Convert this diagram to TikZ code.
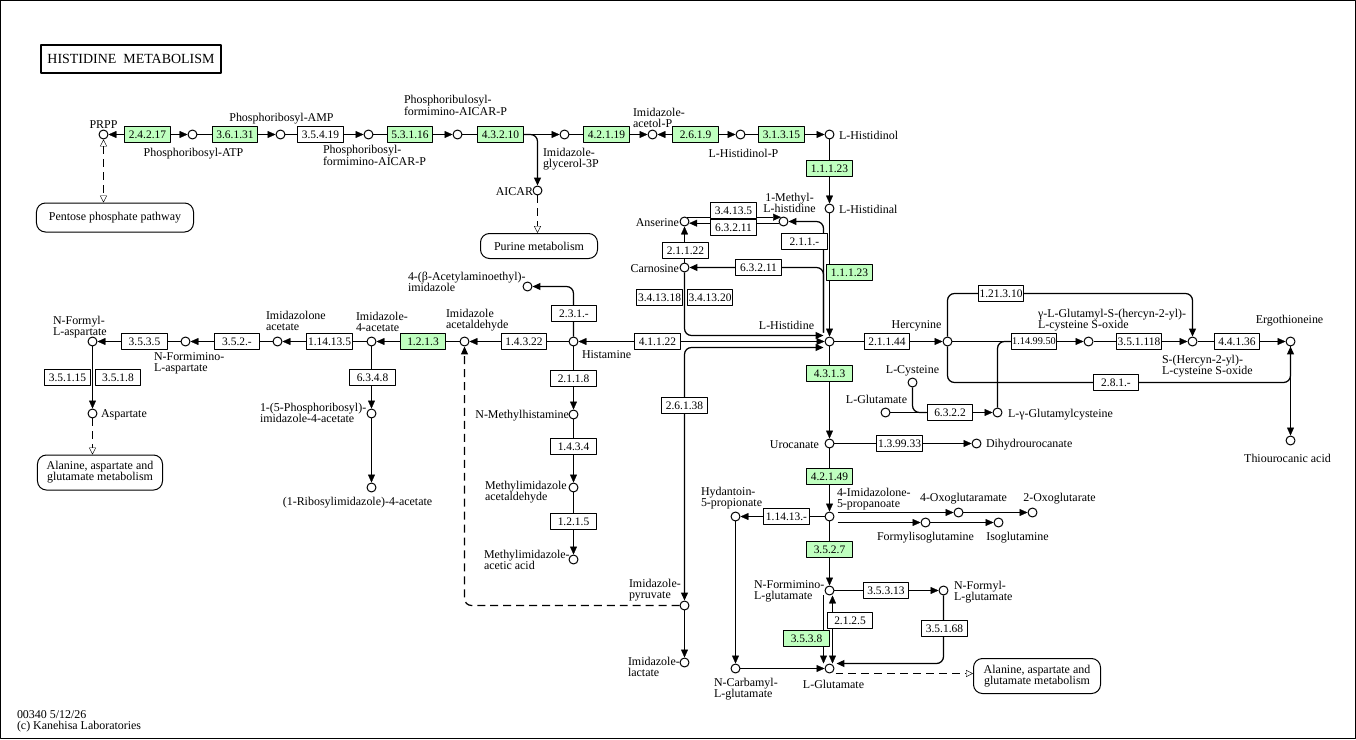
\documentclass[tikz,border=0pt]{standalone}
\usepackage{fontspec}
\setmainfont{Liberation Serif}
\usetikzlibrary{arrows.meta,backgrounds,calc}
\definecolor{keggreen}{HTML}{BFFFBF}
\tikzset{
  cpd/.style={circle,draw,fill=white,inner sep=0pt,minimum size=9pt},
  ec/.style={draw,fill=white,inner sep=1pt,minimum width=46pt,minimum height=16pt,
    font=\fontsize{11.5}{12}\selectfont},
  ecg/.style={ec,fill=keggreen},
  txt/.style={inner sep=0pt,align=left,font=\fontsize{12}{11}\selectfont},
  mapbox/.style={draw,fill=white,rounded corners=9pt,align=center,inner sep=2pt,
    font=\fontsize{12}{11}\selectfont},
  maplink/.style={dash pattern=on 8pt off 5pt,-{Triangle[open,length=7pt,width=7pt]}},
  maplinkboth/.style={dash pattern=on 8pt off 5pt,
    {Triangle[open,length=7pt,width=7pt]}-{Triangle[open,length=7pt,width=7pt]}},
  elbow/.style={rounded corners=7pt,line width=1.25bp}
}
\begin{document}
\begin{tikzpicture}[x=1bp,y=-1bp,line width=1bp,line join=round,>={Triangle[length=8pt,width=7pt]}]
\useasboundingbox (-0.5,-0.5) rectangle (1355.5,738.5);
% title and frame
\draw (0,0) rectangle (1355,738);
\node[draw,line width=2bp,minimum width=179bp,minimum height=27bp,inner sep=0pt,
  font=\fontsize{14}{14}\selectfont] (t-title) at (130.5,58.5) {HISTIDINE\ \ METABOLISM};

% compounds
\node[cpd] (c-prpp) at (103,134) {};
\node[cpd] (c-prat) at (192,134) {};
\node[cpd] (c-pramp) at (280,134) {};
\node[cpd] (c-profar) at (368,134) {};
\node[cpd] (c-prfar) at (457,134) {};
\node[cpd] (c-igp) at (564,134) {};
\node[cpd] (c-aicar) at (537,190) {};
\node[cpd] (c-iap) at (652,134) {};
\node[cpd] (c-hisp) at (740,134) {};
\node[cpd] (c-hisol) at (829,134) {};
\node[cpd] (c-hisal) at (829,208) {};
\node[cpd] (c-his) at (829,341) {};
\node[cpd] (c-mehis) at (783,221) {};
\node[cpd] (c-ans) at (684,221) {};
\node[cpd] (c-car) at (684,267) {};
\node[cpd] (c-hista) at (573,341) {};
\node[cpd] (c-acetyl) at (527,286) {};
\node[cpd] (c-imacald) at (464,341) {};
\node[cpd] (c-im4ac) at (371,341) {};
\node[cpd] (c-imolac) at (277,341) {};
\node[cpd] (c-nfiasp) at (185,341) {};
\node[cpd] (c-nfasp) at (92,341) {};
\node[cpd] (c-asp) at (92,413) {};
\node[cpd] (c-prim) at (371,413) {};
\node[cpd] (c-ribim) at (371,487) {};
\node[cpd] (c-mehista) at (573,414) {};
\node[cpd] (c-meacald) at (573,487) {};
\node[cpd] (c-meacac) at (573,559) {};
\node[cpd] (c-impyr) at (684,605) {};
\node[cpd] (c-imlac) at (684,662) {};
\node[cpd] (c-hercyn) at (947,341) {};
\node[cpd] (c-gghc) at (1088,341) {};
\node[cpd] (c-shc) at (1192,341) {};
\node[cpd] (c-ergo) at (1290,341) {};
\node[cpd] (c-thio) at (1290,440) {};
\node[cpd] (c-cys) at (912,382) {};
\node[cpd] (c-glu1) at (885,412) {};
\node[cpd] (c-gglucys) at (997,412) {};
\node[cpd] (c-uro) at (829,443) {};
\node[cpd] (c-dihuro) at (976,443) {};
\node[cpd] (c-imp) at (829,516) {};
\node[cpd] (c-hyd) at (735,516) {};
\node[cpd] (c-oxam) at (958,512) {};
\node[cpd] (c-oxog) at (1032,512) {};
\node[cpd] (c-fig) at (925,522) {};
\node[cpd] (c-ig) at (998,522) {};
\node[cpd] (c-figlu) at (829,590) {};
\node[cpd] (c-fglu) at (943,590) {};
\node[cpd] (c-ncglu) at (735,668) {};
\node[cpd] (c-glu) at (829,668) {};

% enzymes
\node[ecg] (e-24217) at (147,134) {2.4.2.17};
\node[ecg] (e-36131) at (234.5,134) {3.6.1.31};
\node[ec] (e-35419) at (320,134) {3.5.4.19};
\node[ecg] (e-53116) at (409.5,134) {5.3.1.16};
\node[ecg] (e-43210) at (500,134) {4.3.2.10};
\node[ecg] (e-42119) at (606,134) {4.2.1.19};
\node[ecg] (e-2619) at (695,134) {2.6.1.9};
\node[ecg] (e-31315) at (781,134) {3.1.3.15};
\node[ecg] (e-11123a) at (829,168) {1.1.1.23};
\node[ecg] (e-11123b) at (849,272) {1.1.1.23};
\node[ec] (e-34135) at (733,210) {3.4.13.5};
\node[ec] (e-63211a) at (733,227) {6.3.2.11};
\node[ec] (e-211x) at (804,241) {2.1.1.-};
\node[ec] (e-21122) at (685,250) {2.1.1.22};
\node[ec] (e-63211b) at (758,267) {6.3.2.11};
\node[ec] (e-341318) at (659,297) {3.4.13.18};
\node[ec] (e-341320) at (709.5,297) {3.4.13.20};
\node[ec] (e-41122) at (657,341) {4.1.1.22};
\node[ec] (e-231x) at (573.5,313) {2.3.1.-};
\node[ec] (e-14322) at (523.5,341) {1.4.3.22};
\node[ecg] (e-1213) at (422.5,341) {1.2.1.3};
\node[ec] (e-114135) at (329,341) {1.14.13.5};
\node[ec] (e-352x) at (236.5,341) {3.5.2.-};
\node[ec] (e-3535) at (144,341) {3.5.3.5};
\node[ec] (e-35115) at (67,377) {3.5.1.15};
\node[ec] (e-3518) at (117.5,377) {3.5.1.8};
\node[ec] (e-6348) at (372,377) {6.3.4.8};
\node[ec] (e-2118) at (573,378) {2.1.1.8};
\node[ec] (e-1434) at (573,446) {1.4.3.4};
\node[ec] (e-1215) at (573,521) {1.2.1.5};
\node[ec] (e-26138) at (684,405) {2.6.1.38};
\node[ec] (e-21144) at (886.5,341) {2.1.1.44};
\node[ec] (e-121310) at (1000.5,293) {1.21.3.10};
\node[ec,font=\fontsize{10.3}{12}\selectfont] (e-1149950) at (1033.5,341) {1.14.99.50};
\node[ec] (e-351118) at (1138.5,341) {3.5.1.118};
\node[ec] (e-44136) at (1236.5,341) {4.4.1.36};
\node[ec] (e-281x) at (1115.5,382) {2.8.1.-};
\node[ec] (e-6322) at (949.5,412) {6.3.2.2};
\node[ecg] (e-4313) at (829,373) {4.3.1.3};
\node[ec] (e-139933) at (899,443) {1.3.99.33};
\node[ecg] (e-42149) at (829,476) {4.2.1.49};
\node[ec] (e-11413x) at (786,516) {1.14.13.-};
\node[ecg] (e-3527) at (829,549) {3.5.2.7};
\node[ec] (e-35313) at (885.5,590) {3.5.3.13};
\node[ec] (e-35168) at (944,628) {3.5.1.68};
\node[ec] (e-2125) at (849.5,620) {2.1.2.5};
\node[ecg] (e-3538) at (806,638) {3.5.3.8};

% pathway maps
\node[mapbox,minimum width=157bp,minimum height=29bp] (m-ppp) at (114.5,217) {Pentose phosphate pathway};
\node[mapbox,minimum width=117bp,minimum height=25bp] (m-pur) at (538.5,245.5) {Purine metabolism};
\node[mapbox,minimum width=125bp,minimum height=35bp] (m-ala1) at (99.5,472) {Alanine, aspartate and\\glutamate metabolism};
\node[mapbox,minimum width=127bp,minimum height=35bp] (m-ala2) at (1036.5,675.5) {Alanine, aspartate and\\glutamate metabolism};

% compound names
\node[txt,anchor=south] (t-prpp) at (103,128) {PRPP};
\node[txt] (t-prat) at (193,153) {Phosphoribosyl-ATP};
\node[txt] (t-pramp) at (281,118) {Phosphoribosyl-AMP};
\node[txt,anchor=north west] (t-profar) at (322,144) {Phosphoribosyl-\\formimino-AICAR-P};
\node[txt,anchor=north west] (t-prfar) at (403,94) {Phosphoribulosyl-\\formimino-AICAR-P};
\node[txt,anchor=north west] (t-igp) at (542,147) {Imidazole-\\glycerol-3P};
\node[txt,anchor=east] (t-aicar) at (533,191) {AICAR};
\node[txt,anchor=north west] (t-iap) at (632,107) {Imidazole-\\acetol-P};
\node[txt] (t-hisp) at (743,153) {L-Histidinol-P};
\node[txt,anchor=west] (t-hisol) at (838,135) {L-Histidinol};
\node[txt,anchor=west] (t-hisal) at (838,209) {L-Histidinal};
\node[txt,align=center,anchor=north] (t-mehis) at (789,192) {1-Methyl-\\L-histidine};
\node[txt,anchor=east] (t-ans) at (679,222) {Anserine};
\node[txt,anchor=east] (t-car) at (679,268) {Carnosine};
\node[txt] (t-his) at (786,325) {L-Histidine};
\node[txt,anchor=north west] (t-acetyl) at (407,271) {4-(β-Acetylaminoethyl)-\\imidazole};
\node[txt,anchor=north west] (t-imacald) at (445,308) {Imidazole\\acetaldehyde};
\node[txt,anchor=west] (t-hista) at (581,354) {Histamine};
\node[txt,anchor=east] (t-mehista) at (569,415) {N-Methylhistamine};
\node[txt,anchor=north west] (t-meacald) at (484,480) {Methylimidazole\\acetaldehyde};
\node[txt,anchor=north west] (t-meacac) at (483,549) {Methylimidazole-\\acetic acid};
\node[txt,anchor=north west] (t-impyr) at (628,578) {Imidazole-\\pyruvate};
\node[txt,anchor=north west] (t-imlac) at (627,656) {Imidazole-\\lactate};
\node[txt,anchor=north west] (t-im4ac) at (355,311) {Imidazole-\\4-acetate};
\node[txt,anchor=north west] (t-imolac) at (265,310) {Imidazolone\\acetate};
\node[txt,anchor=north west] (t-nfiasp) at (153,352) {N-Formimino-\\L-aspartate};
\node[txt,anchor=north west] (t-nfasp) at (52,315) {N-Formyl-\\L-aspartate};
\node[txt,anchor=west] (t-asp) at (100,414) {Aspartate};
\node[txt,anchor=north west] (t-prim) at (259,402) {1-(5-Phosphoribosyl)-\\imidazole-4-acetate};
\node[txt] (t-ribim) at (357,502) {(1-Ribosylimidazole)-4-acetate};
\node[txt] (t-hercyn) at (916,325) {Hercynine};
\node[txt,anchor=north west] (t-gghc) at (1037,308) {γ-L-Glutamyl-S-(hercyn-2-yl)-\\L-cysteine S-oxide};
\node[txt,anchor=north west] (t-shc) at (1161,354) {S-(Hercyn-2-yl)-\\L-cysteine S-oxide};
\node[txt] (t-ergo) at (1289,320) {Ergothioneine};
\node[txt] (t-thio) at (1287,458) {Thiourocanic acid};
\node[txt] (t-cys) at (912,370) {L-Cysteine};
\node[txt] (t-glu1) at (876,399) {L-Glutamate};
\node[txt,anchor=west] (t-gglucys) at (1007,414) {L-γ-Glutamylcysteine};
\node[txt,anchor=east] (t-uro) at (819,444) {Urocanate};
\node[txt,anchor=west] (t-dihuro) at (985,444) {Dihydrourocanate};
\node[txt,anchor=north west] (t-imp) at (836,487) {4-Imidazolone-\\5-propanoate};
\node[txt,anchor=north west] (t-hyd) at (700,486) {Hydantoin-\\5-propionate};
\node[txt] (t-oxam) at (963,498) {4-Oxoglutaramate};
\node[txt] (t-oxog) at (1059,498) {2-Oxoglutarate};
\node[txt] (t-fig) at (925,537) {Formylisoglutamine};
\node[txt] (t-ig) at (1017,537) {Isoglutamine};
\node[txt,anchor=north west] (t-figlu) at (753,580) {N-Formimino-\\L-glutamate};
\node[txt,anchor=north west] (t-fglu) at (953,580) {N-Formyl-\\L-glutamate};
\node[txt,anchor=north west] (t-ncglu) at (713,677) {N-Carbamyl-\\L-glutamate};
\node[txt] (t-glu) at (833,684) {L-Glutamate};
\node[txt,anchor=north west] (t-footer) at (16,710) {00340 5/12/26\\(c) Kanehisa Laboratories};

% free ends near compounds
\coordinate (his-up) at ($(c-his)+(-6,-9)$);
\coordinate (his-in1) at ($(c-his)+(-6,-6)$);
\coordinate (his-in3) at ($(c-his)+(-6,6)$);
\coordinate (imp-o1) at ($(c-imp)+(8,-4)$);
\coordinate (imp-o2) at ($(c-imp)+(8,6)$);
\coordinate (glu-in) at ($(c-glu)+(7,-5)$);
\coordinate (glu-out) at ($(c-glu)+(6,5)$);

\begin{scope}[on background layer]
% histidine biosynthesis
\draw[<->] (c-prpp) -- (c-prat);
\draw[->] (c-prat) -- (c-pramp);
\draw[->] (c-pramp) -- (c-profar);
\draw[->] (c-profar) -- (c-prfar);
\draw[->] (c-prfar) -- (c-igp);
\draw[->,elbow] (e-43210.east) -| (c-aicar);
\draw[->] (c-igp) -- (c-iap);
\draw[<->] (c-iap) -- (c-hisp);
\draw[->] (c-hisp) -- (c-hisol);
\draw[->] (c-hisol) -- (c-hisal);
\draw[->] (c-hisal) -- (c-his);
% carnosine and anserine
\draw[->] (c-ans.60) -- (c-mehis.120);
\draw[->] (c-mehis.200) -- (c-ans.340);
\draw[->] (c-car) -- (c-ans);
\draw[->,elbow] (his-up) |- (c-mehis);
\draw[->,elbow] (his-up) |- (c-car);
\draw[->,elbow] (c-car) |- (his-in1);
% histamine branch
\draw[<->] (c-hista) -- (c-his);
\draw[->] (c-hista) -- (c-imacald);
\draw[->,elbow] (c-hista) |- (c-acetyl);
\draw[->] (c-hista) -- (c-mehista);
\draw[->] (c-mehista) -- (c-meacald);
\draw[->] (c-meacald) -- (c-meacac);
\draw[<->,elbow] (c-impyr) |- (his-in3);
\draw[->] (c-impyr) -- (c-imlac);
\draw[->,elbow,dash pattern=on 8pt off 5pt] (c-impyr) -| (c-imacald);
\draw[->] (c-imacald) -- (c-im4ac);
\draw[->] (c-im4ac) -- (c-imolac);
\draw[->] (c-imolac) -- (c-nfiasp);
\draw[->] (c-nfiasp) -- (c-nfasp);
\draw[->] (c-nfasp) -- (c-asp);
\draw[->] (c-im4ac) -- (c-prim);
\draw[->] (c-prim) -- (c-ribim);
% ergothioneine
\draw[->] (c-his) -- (c-hercyn);
\draw[->] (c-hercyn) -- (c-gghc);
\draw[->] (c-gghc) -- (c-shc);
\draw[->] (c-shc) -- (c-ergo);
\draw[->] (c-ergo) -- (c-thio);
\draw[->,elbow] (c-hercyn) |- (e-121310.center) -| (c-shc);
\draw[->,elbow] (c-hercyn) |- (e-281x.center) -| (c-ergo);
\draw[->] (c-glu1) -- (c-gglucys);
\draw[elbow] (c-cys) |- (e-6322.west);
\draw[elbow] (c-gglucys) |- (e-1149950.west);
% urocanate to glutamate
\draw[->] (c-his) -- (c-uro);
\draw[->] (c-uro) -- (c-dihuro);
\draw[->] (c-uro) -- (c-imp);
\draw[->] (c-imp) -- (c-hyd);
\draw[->] (imp-o1) -- (c-oxam);
\draw[->] (c-oxam) -- (c-oxog);
\draw[->] (imp-o2) -- (c-fig);
\draw[->] (c-fig) -- (c-ig);
\draw[->] (c-imp) -- (c-figlu);
\draw[->] (c-figlu) -- (c-fglu);
\draw[->,elbow] (c-fglu) |- (glu-in);
\draw[->] ([xshift=-6bp]c-figlu.south) -- ([xshift=-6bp]c-glu.north);
\draw[<->] ([xshift=3bp]c-figlu.south) -- ([xshift=3bp]c-glu.north);
\draw[->] (c-hyd) -- (c-ncglu);
\draw[->] (c-ncglu) -- (c-glu);
% links to other maps
\draw[maplinkboth] (c-prpp) -- (c-prpp |- m-ppp.north);
\draw[maplink] (c-aicar) -- (c-aicar |- m-pur.north);
\draw[maplink] (c-asp) -- (c-asp |- m-ala1.north);
\draw[maplink] (glu-out) -- (glu-out -| m-ala2.west);
\end{scope}
\end{tikzpicture}
\end{document}
